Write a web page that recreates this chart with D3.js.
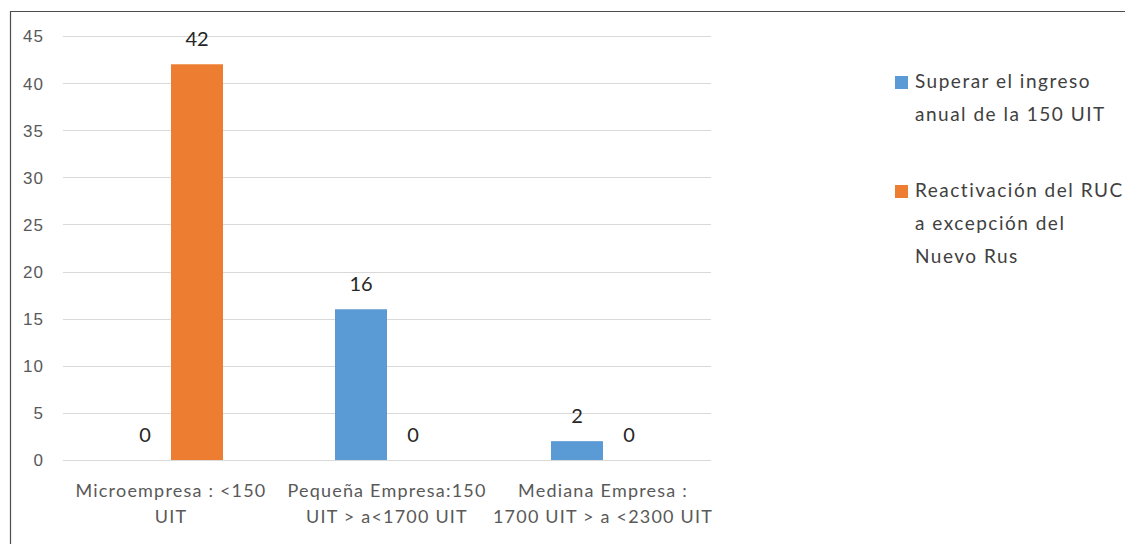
<!DOCTYPE html>
<html lang="es">
<head>
<meta charset="utf-8">
<title>Chart</title>
<style>
  body { margin: 0; background: #fff; }
  svg { display: block; font-family: Lato, "Open Sans", sans-serif; }
  .tick text { fill: #595959; font-size: 17px; letter-spacing: 1px; }
  .grid line { stroke: #d9d9d9; }
</style>
</head>
<body>
<script src="https://cdn.jsdelivr.net/npm/d3@7"></script>
<script>
var categories = [
  ["Microempresa : <150", "UIT"],
  ["Pequeña Empresa:150", "UIT > a<1700 UIT"],
  ["Mediana Empresa :", "1700 UIT > a <2300 UIT"]
];
var seriesNames = [
  ["Superar el ingreso", "anual de la 150 UIT"],
  ["Reactivación del RUC", "a excepción del", "Nuevo Rus"]
];
var superarValues = [0, 16, 2];
var reactivacionValues = [42, 0, 0];
var yTicks = [0, 5, 10, 15, 20, 25, 30, 35, 40, 45];
var colors = ["#5b9bd5", "#ed7d31"];

var W = 1125, H = 544;
var margin = {top: 36, left: 63, right: 414, bottom: 84};
var width = W - margin.left - margin.right,
    height = H - margin.top - margin.bottom;

var svg = d3.select("body").append("svg")
    .attr("width", W)
    .attr("height", H);

// outer frame (left + top only visible)
svg.append("path")
    .attr("d", "M10.5," + H + "V11.5H" + W)
    .attr("fill", "none")
    .attr("stroke", "#4d4d4d")
    .attr("stroke-width", 1.2);

var g = svg.append("g")
    .attr("transform", "translate(" + margin.left + "," + margin.top + ")");

var x = d3.scaleBand()
    .domain(d3.range(categories.length))
    .range([0, width]);
var x1 = d3.scaleBand()
    .domain([0, 1])
    .range([x.bandwidth() / 2 - 52, x.bandwidth() / 2 + 52]);
var y = d3.scaleLinear()
    .domain([0, 45])
    .range([height, 0]);

// gridlines
g.append("g").attr("class", "grid")
  .selectAll("line")
  .data(yTicks)
  .enter().append("line")
    .attr("x1", 0).attr("x2", width)
    .attr("y1", function(d) { return Math.round(y(d)) + 0.5; })
    .attr("y2", function(d) { return Math.round(y(d)) + 0.5; });

// y axis
var yAxis = g.append("g")
    .call(d3.axisLeft(y).tickValues(yTicks).tickSize(0).tickPadding(19));
yAxis.select(".domain").remove();
yAxis.selectAll(".tick text").attr("dy", "0.35em");

var series = [superarValues, reactivacionValues];
var groups = g.selectAll(".grp")
    .data(categories)
    .enter().append("g")
    .attr("class", "grp")
    .attr("transform", function(d, i) { return "translate(" + x(i) + ",0)"; });

groups.each(function(c, i) {
  var grp = d3.select(this);
  series.forEach(function(vals, s) {
    var v = vals[i];
    grp.append("rect")
        .attr("x", x1(s))
        .attr("width", x1.bandwidth())
        .attr("y", y(v))
        .attr("height", height - y(v))
        .attr("fill", colors[s]);
    grp.append("text")
        .attr("x", x1(s) + x1.bandwidth() / 2)
        .attr("y", y(v) - 18)
        .attr("text-anchor", "middle")
        .attr("fill", "#262626")
        .attr("font-size", "20px")
        .text(v);
  });
  // category label
  grp.append("text")
      .attr("text-anchor", "middle")
      .attr("fill", "#595959")
      .attr("font-size", "18px")
      .attr("letter-spacing", "1.2px")
      .selectAll("tspan")
      .data(c)
      .enter().append("tspan")
      .attr("x", x.bandwidth() / 2)
      .attr("y", function(d, k) { return height + 37 + k * 26; })
      .text(function(d) { return d; });
});

// legend
var legendY = [82, 191];
seriesNames.forEach(function(lines, s) {
  var lg = svg.append("g").attr("transform", "translate(895," + legendY[s] + ")");
  lg.append("rect")
      .attr("x", 0).attr("y", -6)
      .attr("width", 13).attr("height", 13)
      .attr("fill", colors[s]);
  lg.append("text")
      .attr("fill", "#404040")
      .attr("font-size", "19px")
      .attr("letter-spacing", "1.5px")
      .selectAll("tspan")
      .data(lines)
      .enter().append("tspan")
      .attr("x", 20)
      .attr("y", function(d, k) { return 6 + k * 33; })
      .text(function(d) { return d; });
});
</script>
</body>
</html>
